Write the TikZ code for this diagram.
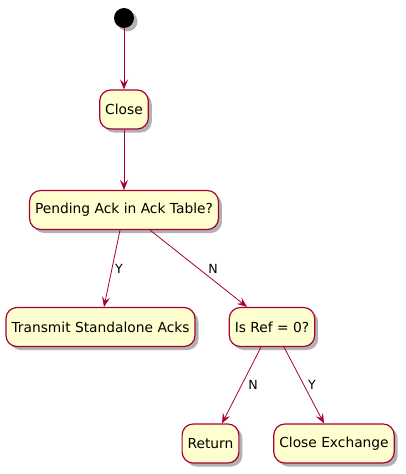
\documentclass[tikz,border=0pt]{standalone}
\usepackage{fontspec}
\setmainfont{DejaVu Sans}
\usetikzlibrary{arrows.meta,shadows}
\definecolor{pborder}{HTML}{A80036}
\definecolor{pfill}{HTML}{FEFECE}
\tikzset{
  act/.style={draw=pborder, fill=pfill, line width=1.2pt, rounded corners=11pt,
    minimum height=39pt, inner xsep=5.5pt, inner ysep=0pt, font=\fontsize{13.8}{16}\selectfont,
    drop shadow={shadow xshift=3.5pt, shadow yshift=-3.5pt, fill=black, opacity=0.3}},
  flow/.style={draw=pborder, line width=0.8pt, -{Stealth[length=10pt,width=8pt,inset=4pt]}},
  lbl/.style={font=\fontsize{12.6}{15}\selectfont, inner sep=1pt, anchor=center}
}
\begin{document}
\begin{tikzpicture}[x=1pt,y=-1pt]
\useasboundingbox (0,0) rectangle (405,474);
\node[circle, fill=black, minimum size=20pt, inner sep=0pt,
  drop shadow={shadow xshift=3.5pt, shadow yshift=-3.5pt, fill=black, opacity=0.3}] (start) at (124,18) {};
\node[act] (close) at (124,109.5) {Close};
\node[act] (pend) at (124,210) {Pending Ack in Ack Table?};
\node[act] (trans) at (100.5,327) {Transmit Standalone Acks};
\node[act] (isref) at (272,327) {Is Ref = 0?};
\node[act] (ret) at (210.5,443.5) {Return};
\node[act] (cex) at (334,443.5) {Close Exchange};

\draw[flow] (start) -- (close.north);
\draw[flow] (close.south) -- (pend.north);
\draw[flow] ([xshift=-4pt]pend.south) -- node[lbl, pos=0.5, xshift=7pt] {Y} ([xshift=3.5pt]trans.north);
\draw[flow] ([xshift=26pt]pend.south) -- node[lbl, pos=0.5, xshift=14.5pt] {N} ([xshift=-25pt]isref.north);
\draw[flow] ([xshift=-11pt]isref.south) -- node[lbl, pos=0.5, xshift=11.5pt] {N} ([xshift=11.5pt]ret.north);
\draw[flow] ([xshift=12pt]isref.south) -- node[lbl, pos=0.5, xshift=8pt] {Y} ([xshift=-10pt]cex.north);
\end{tikzpicture}
\end{document}
